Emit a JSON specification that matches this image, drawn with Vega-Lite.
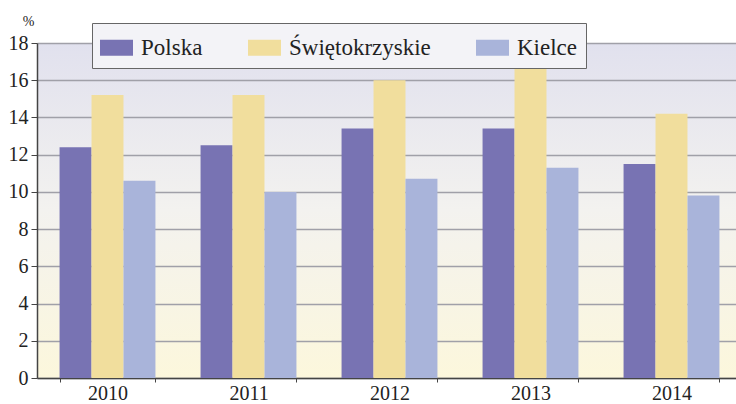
{
  "$schema": "https://vega.github.io/schema/vega-lite/v6.json",
  "width": 705,
  "height": 335,
  "autosize": {"type": "none"},
  "padding": {"left": 37, "top": 43, "right": 0, "bottom": 26},
  "background": "white",
  "data": {
    "values": [
      {"year": "2010", "series": "Polska", "value": 12.4},
      {"year": "2010", "series": "Świętokrzyskie", "value": 15.2},
      {"year": "2010", "series": "Kielce", "value": 10.6},
      {"year": "2011", "series": "Polska", "value": 12.5},
      {"year": "2011", "series": "Świętokrzyskie", "value": 15.2},
      {"year": "2011", "series": "Kielce", "value": 10.0},
      {"year": "2012", "series": "Polska", "value": 13.4},
      {"year": "2012", "series": "Świętokrzyskie", "value": 16.0},
      {"year": "2012", "series": "Kielce", "value": 10.7},
      {"year": "2013", "series": "Polska", "value": 13.4},
      {"year": "2013", "series": "Świętokrzyskie", "value": 16.6},
      {"year": "2013", "series": "Kielce", "value": 11.3},
      {"year": "2014", "series": "Polska", "value": 11.5},
      {"year": "2014", "series": "Świętokrzyskie", "value": 14.2},
      {"year": "2014", "series": "Kielce", "value": 9.8}
    ]
  },
  "mark": {"type": "bar"},
  "encoding": {
    "x": {
      "field": "year",
      "type": "nominal",
      "scale": {"paddingInner": 0.32, "paddingOuter": 0.16},
      "axis": {
        "title": null,
        "labelAngle": 0,
        "labelFont": "Liberation Serif",
        "labelFontSize": 20,
        "labelColor": "#222222",
        "labelPadding": 1,
        "tickBand": "extent",
        "tickSize": 4,
        "tickColor": "#444444",
        "domainColor": "#444444",
        "domainWidth": 1.5,
        "grid": false
      }
    },
    "xOffset": {
      "field": "series",
      "type": "nominal",
      "scale": {"domain": ["Polska", "Świętokrzyskie", "Kielce"], "paddingInner": 0, "paddingOuter": 0}
    },
    "y": {
      "field": "value",
      "type": "quantitative",
      "scale": {"domain": [0, 18], "nice": false},
      "axis": {
        "title": "%",
        "titleAngle": 0,
        "titleFont": "Liberation Serif",
        "titleFontSize": 14,
        "titleFontWeight": "normal",
        "titleColor": "#222222",
        "titleX": -9,
        "titleY": -18,
        "titleAlign": "center",
        "titleBaseline": "alphabetic",
        "values": [0, 2, 4, 6, 8, 10, 12, 14, 16, 18],
        "labelFont": "Liberation Serif",
        "labelFontSize": 20,
        "labelColor": "#222222",
        "labelPadding": 3,
        "tickSize": 6,
        "tickColor": "#444444",
        "domainColor": "#444444",
        "domainWidth": 1.5,
        "grid": true,
        "gridColor": "#a0a0a8",
        "gridWidth": 1.3
      }
    },
    "color": {
      "field": "series",
      "type": "nominal",
      "scale": {
        "domain": ["Polska", "Świętokrzyskie", "Kielce"],
        "range": ["#7873b3", "#f1de9d", "#a9b4da"]
      },
      "legend": {
        "title": null,
        "orient": "none",
        "direction": "horizontal",
        "legendX": 55,
        "legendY": -20,
        "fillColor": "#f3f3f7",
        "strokeColor": "#666666",
        "padding": 8,
        "columnPadding": 45,
        "symbolType": "M-1,-0.48H1V0.48H-1Z",
        "symbolSize": 1089,
        "symbolStrokeWidth": 0,
        "symbolOpacity": 1,
        "labelFont": "Liberation Serif",
        "labelFontSize": 23,
        "labelColor": "#222222",
        "labelOffset": 8,
        "labelLimit": 300
      }
    }
  },
  "config": {
    "font": "Liberation Serif",
    "legend": {"labelFont": "Liberation Serif"},
    "axis": {"labelFont": "Liberation Serif"},
    "view": {
      "stroke": null,
      "fill": {"expr": "{gradient: 'linear', x1: 0, y1: 0, x2: 0, y2: 1, stops: [{offset: 0, color: '#e1e1ee'}, {offset: 0.5, color: '#f3f2ef'}, {offset: 1, color: '#fcf7dc'}]}"}
    }
  }
}
